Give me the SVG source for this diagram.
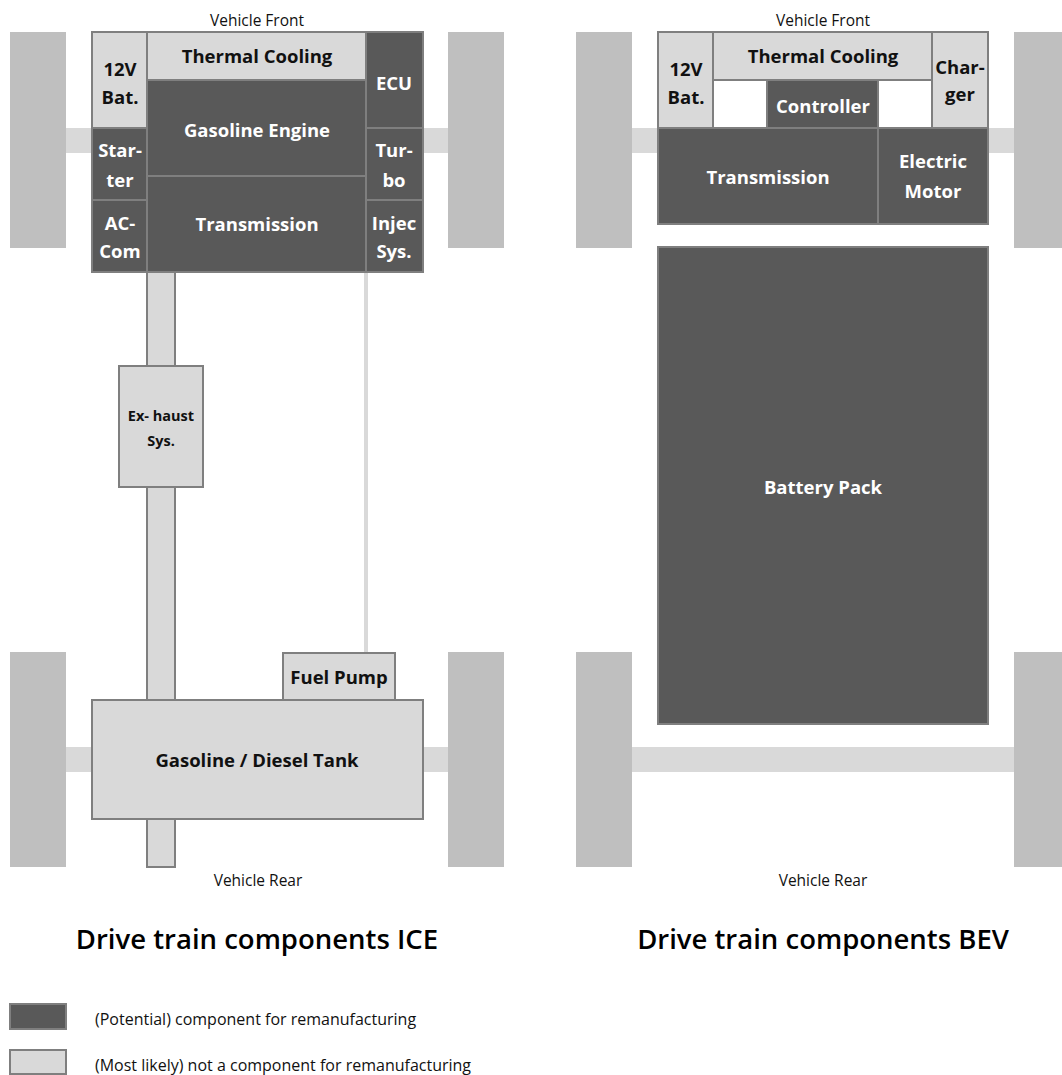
<svg xmlns="http://www.w3.org/2000/svg" width="1062" height="1075" viewBox="0 0 1062 1075">
<style>
  .wheel { fill: #bfbfbf; }
  .axle { fill: #d9d9d9; }
  .dark { fill: #595959; stroke: #7f7f7f; stroke-width: 2; }
  .light { fill: #d9d9d9; stroke: #7f7f7f; stroke-width: 2; }
  .white { fill: #ffffff; stroke: #7f7f7f; stroke-width: 2; }
  text { font-family: "Open Sans", "Liberation Sans", sans-serif; text-anchor: middle; }
  .lb { font-weight: bold; font-size: 18.5px; fill: #ffffff; }
  .db { font-weight: bold; font-size: 18.5px; fill: #111111; }
  .sm { font-size: 15.5px; fill: #111111; }
  .ttl { font-weight: 600; font-size: 27.5px; fill: #000000; }
  .leg { font-size: 16px; fill: #111111; text-anchor: start; }
</style>

<!-- ICE chassis -->
<g id="ice-chassis">
  <rect class="axle" x="60" y="128" width="40" height="25"/>
  <rect class="axle" x="415" y="128" width="40" height="25"/>
  <rect class="axle" x="60" y="747" width="40" height="25"/>
  <rect class="axle" x="415" y="747" width="40" height="25"/>
  <rect class="wheel" x="10" y="32" width="56" height="216"/>
  <rect class="wheel" x="448" y="32" width="56" height="216"/>
  <rect class="wheel" x="10" y="652" width="56" height="215"/>
  <rect class="wheel" x="448" y="652" width="56" height="215"/>
</g>

<!-- BEV chassis -->
<g id="bev-chassis">
  <rect class="axle" x="626" y="128" width="40" height="25"/>
  <rect class="axle" x="980" y="128" width="40" height="25"/>
  <rect class="axle" x="626" y="747" width="394" height="25"/>
  <rect class="wheel" x="576" y="32" width="56" height="216"/>
  <rect class="wheel" x="1014" y="32" width="56" height="216"/>
  <rect class="wheel" x="576" y="652" width="56" height="215"/>
  <rect class="wheel" x="1014" y="652" width="56" height="215"/>
</g>

<!-- connectors -->
<g id="connectors">
  <rect id="exhaust-pipe" class="light" x="147" y="272" width="28" height="595"/>
  <line id="fuel-line" x1="366" y1="272" x2="366" y2="653" stroke="#d9d9d9" stroke-width="4"/>
</g>

<!-- ICE nodes -->
<g id="ice-12v-bat"><rect class="light" x="92" y="32" width="55" height="96"/><text class="db" x="120" y="76">12V</text><text class="db" x="120" y="104">Bat.</text></g>
<g id="ice-thermal-cooling"><rect class="light" x="147" y="32" width="219" height="48"/><text class="db" x="257" y="63">Thermal Cooling</text></g>
<g id="ice-ecu"><rect class="dark" x="366" y="32" width="57" height="96"/><text class="lb" x="394" y="90">ECU</text></g>
<g id="ice-gasoline-engine"><rect class="dark" x="147" y="80" width="219" height="96"/><text class="lb" x="257" y="137">Gasoline Engine</text></g>
<g id="ice-starter"><rect class="dark" x="92" y="128" width="55" height="72"/><text class="lb" x="120" y="157">Star-</text><text class="lb" x="120" y="187">ter</text></g>
<g id="ice-turbo"><rect class="dark" x="366" y="128" width="57" height="72"/><text class="lb" x="394" y="157">Tur-</text><text class="lb" x="394" y="187">bo</text></g>
<g id="ice-transmission"><rect class="dark" x="147" y="176" width="219" height="96"/><text class="lb" x="257" y="231">Transmission</text></g>
<g id="ice-ac-com"><rect class="dark" x="92" y="200" width="55" height="72"/><text class="lb" x="120" y="230">AC-</text><text class="lb" x="120" y="258">Com</text></g>
<g id="ice-injec-sys"><rect class="dark" x="366" y="200" width="57" height="72"/><text class="lb" x="394" y="230">Injec</text><text class="lb" x="394" y="258">Sys.</text></g>
<g id="ice-exhaust-sys"><rect class="light" x="119" y="366" width="84" height="121"/><text class="db" style="font-size:14.5px" x="161" y="421">Ex- haust</text><text class="db" style="font-size:14.5px" x="161" y="446">Sys.</text></g>
<g id="ice-fuel-pump"><rect class="light" x="283" y="653" width="112" height="47"/><text class="db" x="339" y="684">Fuel Pump</text></g>
<g id="ice-tank"><rect class="light" x="92" y="700" width="331" height="119"/><text class="db" x="257" y="767">Gasoline / Diesel Tank</text></g>

<!-- BEV nodes -->
<g id="bev-12v-bat"><rect class="light" x="658" y="32" width="55" height="96"/><text class="db" x="686" y="76">12V</text><text class="db" x="686" y="104">Bat.</text></g>
<g id="bev-thermal-cooling"><rect class="light" x="713" y="32" width="219" height="48"/><text class="db" x="823" y="63">Thermal Cooling</text></g>
<g id="bev-charger"><rect class="light" x="932" y="32" width="56" height="96"/><text class="db" x="960" y="74">Char-</text><text class="db" x="960" y="101">ger</text></g>
<g id="bev-gap-left"><rect class="white" x="713" y="80" width="54" height="48"/></g>
<g id="bev-controller"><rect class="dark" x="767" y="80" width="111" height="48"/><text class="lb" x="823" y="113">Controller</text></g>
<g id="bev-gap-right"><rect class="white" x="878" y="80" width="54" height="48"/></g>
<g id="bev-transmission"><rect class="dark" x="658" y="128" width="220" height="96"/><text class="lb" x="768" y="184">Transmission</text></g>
<g id="bev-electric-motor"><rect class="dark" x="878" y="128" width="110" height="96"/><text class="lb" x="933" y="168">Electric</text><text class="lb" x="933" y="198">Motor</text></g>
<g id="bev-battery-pack"><rect class="dark" x="658" y="247" width="330" height="477"/><text class="lb" x="823" y="494">Battery Pack</text></g>

<!-- labels -->
<g id="labels">
  <text class="sm" x="257" y="26">Vehicle Front</text>
  <text class="sm" x="258" y="886">Vehicle Rear</text>
  <text class="sm" x="823" y="26">Vehicle Front</text>
  <text class="sm" x="823" y="886">Vehicle Rear</text>
  <text class="ttl" x="257" y="949">Drive train components ICE</text>
  <text class="ttl" x="823" y="949">Drive train components BEV</text>
</g>

<!-- legend -->
<g id="legend">
  <rect class="dark" x="10" y="1004" width="56" height="25"/>
  <text class="leg" x="95" y="1025">(Potential) component for remanufacturing</text>
  <rect class="light" x="10" y="1050" width="56" height="24"/>
  <text class="leg" x="95" y="1071">(Most likely) not a component for remanufacturing</text>
</g>
</svg>
